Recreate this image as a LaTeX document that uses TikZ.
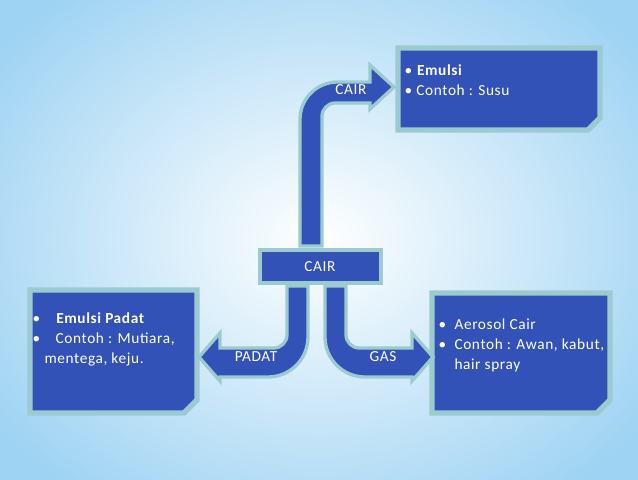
\documentclass[tikz,border=0pt]{standalone}
\usepackage{fontspec}
\setmainfont{Carlito}[LetterSpace=4]
\usetikzlibrary{positioning}
\definecolor{boxblue}{HTML}{3352B8}
\definecolor{glow}{HTML}{9CCBCF}
\definecolor{bgblue}{HTML}{9ED3F3}
\tikzset{
  boxshape/.style={fill=boxblue, draw=glow, line width=4pt},
  arrowshape/.style={draw=glow, line width=2.5pt, fill=boxblue},
  lbl/.style={text=white, font=\fontsize{11.5}{13}\selectfont},
  boxtext/.style={text=white, anchor=north west, align=left, font=\fontsize{11.5}{15}\selectfont}
}
\begin{document}
\begin{tikzpicture}[x=0.75pt, y=-0.75pt]
  \useasboundingbox (0,0) rectangle (638,479);
  \shade[inner color=white, outer color=bgblue] (-80,-80) rectangle (718,559);

  % boxes
  \filldraw[boxshape] (398,48) -- (600,48) -- (600,118) -- (588,130) -- (398,130) -- cycle;
  \node[boxtext] (emulsi) at (400,60) {• \textbf{Emulsi}\\• Contoh : Susu};

  \filldraw[boxshape] (30,290) -- (197,290) -- (197,400) -- (184,413) -- (30,413) -- cycle;
  \node[boxtext] (padat) at (28,308) {•\quad \textbf{Emulsi Padat}\\•\quad Contoh : Mutiara,\\\phantom{•\;}mentega, keju.};

  \filldraw[boxshape] (432,293) -- (610,293) -- (610,400) -- (597,413) -- (432,413) -- cycle;
  \node[boxtext] (aerosol) at (434,314) {•\ \ Aerosol Cair\\•\ \ Contoh : Awan, kabut,\\\phantom{•\ \ }hair spray};

  % arrows
  \filldraw[arrowshape] (300,246) [rounded corners=28] -- (300,82) [sharp corners] -- (370,82) -- (370,65) -- (394,87) -- (370,109) -- (370,103) [rounded corners=10] -- (322,103) [sharp corners] -- (322,246) -- cycle;
  \filldraw[arrowshape] (287,286) [rounded corners=10] -- (287,348) [sharp corners] -- (220,348) -- (220,333) -- (199,357) -- (220,381) -- (220,377) [rounded corners=30] -- (308,377) [sharp corners] -- (308,286) -- cycle;
  \filldraw[arrowshape] (346,286) [rounded corners=10] -- (346,348) [sharp corners] -- (412,348) -- (412,333) -- (433,357) -- (412,381) -- (412,377) [rounded corners=30] -- (325,377) [sharp corners] -- (325,286) -- cycle;

  \filldraw[arrowshape] (260,250) rectangle (381,283);
  \node[lbl] (cair) at (320,267) {CAIR};
  \node[lbl] (cairup) at (351,90) {CAIR};
  \node[lbl] (padatlbl) at (256,357) {PADAT};
  \node[lbl] (gaslbl) at (383,357) {GAS};
\end{tikzpicture}
\end{document}
